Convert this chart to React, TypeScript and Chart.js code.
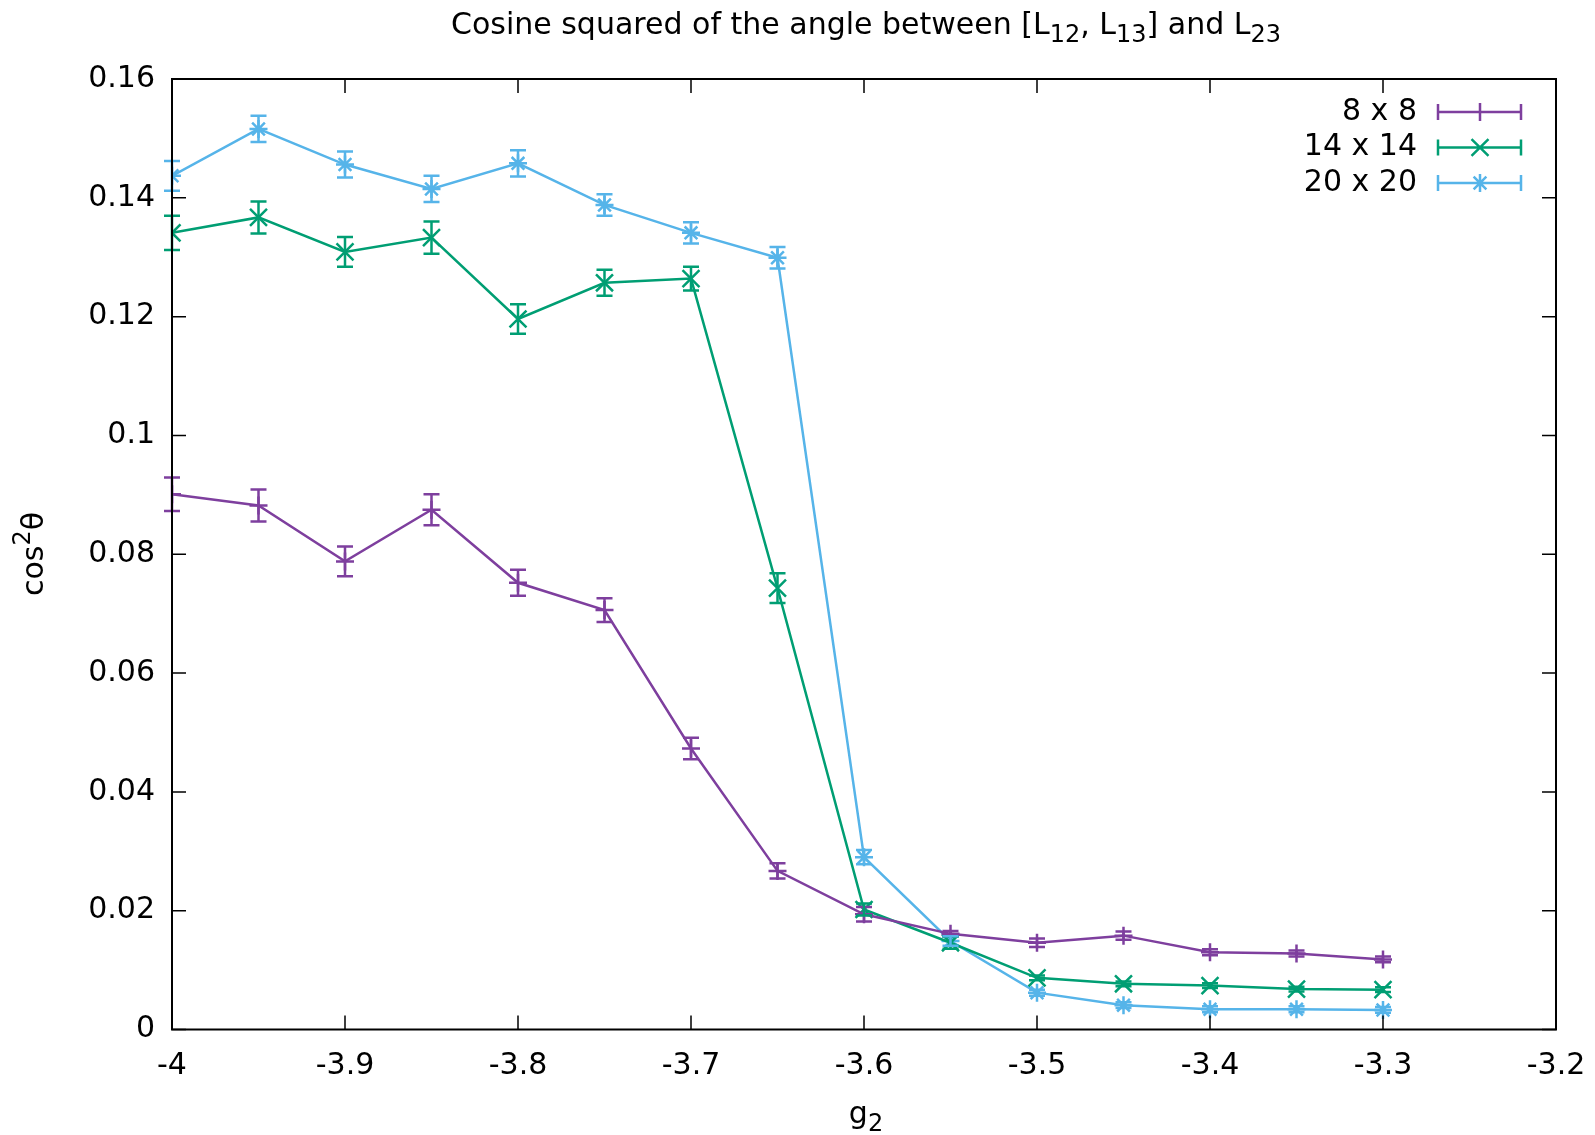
import { useEffect, useRef } from "react";
import { Chart, registerables } from "chart.js";

Chart.register(...registerables);

const FONT = "'DejaVu Sans', sans-serif";
const FS = 30;
const W = 1595;
const H = 1135;

// g2 values
const gValues = [-4, -3.95, -3.9, -3.85, -3.8, -3.75, -3.7, -3.65, -3.6, -3.55, -3.5, -3.45, -3.4, -3.35, -3.3];

// 8 x 8
const cos8 = [0.0901, 0.0882, 0.0788, 0.0875, 0.0752, 0.0706, 0.0473, 0.0267, 0.0194, 0.0161, 0.0146, 0.0158, 0.0130, 0.0128, 0.0118];
const err8 = [0.0028, 0.0027, 0.0025, 0.0026, 0.0022, 0.0020, 0.0018, 0.0013, 0.0012, 0.0005, 0.0007, 0.0007, 0.0005, 0.0005, 0.0005];

// 14 x 14
const cos14 = [0.1341, 0.1367, 0.1309, 0.1333, 0.1196, 0.1257, 0.1264, 0.0743, 0.0202, 0.0146, 0.0087, 0.0077, 0.0074, 0.0068, 0.0067];
const err14 = [0.0029, 0.0027, 0.0025, 0.0027, 0.0025, 0.0022, 0.0020, 0.0025, 0.0010, 0.0010, 0.0004, 0.0004, 0.0004, 0.0004, 0.0004];

// 20 x 20
const cos20 = [0.1437, 0.1516, 0.1456, 0.1415, 0.1458, 0.1388, 0.1341, 0.1299, 0.0290, 0.0149, 0.0062, 0.0041, 0.0034, 0.0034, 0.0033];
const err20 = [0.0025, 0.0022, 0.0022, 0.0022, 0.0022, 0.0018, 0.0018, 0.0018, 0.0012, 0.0008, 0.0005, 0.0005, 0.0005, 0.0005, 0.0005];

const seriesLabels = ["8 x 8", "14 x 14", "20 x 20"];
const seriesValues = [cos8, cos14, cos20];
const seriesErrors = [err8, err14, err20];
const seriesColors = ["#7e3f9e", "#009e73", "#56b4e9"];
const seriesPoints = ["cross", "crossRot", "star"];

const xMin = -4;
const xMax = -3.2;
const xStep = 0.1;
const yMin = 0;
const yMax = 0.16;
const yStep = 0.02;

type Seg = { t: string; sub?: boolean; sup?: boolean };
const titleSegs: Seg[] = [
  { t: "Cosine squared of the angle between [L" },
  { t: "12", sub: true },
  { t: ", L" },
  { t: "13", sub: true },
  { t: "] and L" },
  { t: "23", sub: true },
];
const yTitleSegs: Seg[] = [{ t: "cos" }, { t: "2", sup: true }, { t: "θ" }];
const xTitleSegs: Seg[] = [{ t: "g" }, { t: "2", sub: true }];

function drawSegs(ctx: CanvasRenderingContext2D, segs: Seg[], cx: number, cy: number, size: number) {
  const small = size * 0.8;
  let total = 0;
  const widths = segs.map((s) => {
    ctx.font = `${s.sub || s.sup ? small : size}px ${FONT}`;
    const w = ctx.measureText(s.t).width;
    total += w;
    return w;
  });
  let x = cx - total / 2;
  ctx.textBaseline = "middle";
  ctx.textAlign = "left";
  segs.forEach((s, i) => {
    ctx.font = `${s.sub || s.sup ? small : size}px ${FONT}`;
    const dy = s.sub ? size * 0.32 : s.sup ? -size * 0.38 : 0;
    ctx.fillText(s.t, x, cy + dy);
    x += widths[i];
  });
}

function fmt(v: number) {
  return String(parseFloat(v.toFixed(3)));
}

const CHART_LEFT = 172;
const CHART_RIGHT = 1556;
const CHART_TOP = 79;
const CHART_BOTTOM = 1029.5;
const TICK = 14;
const CAP = 8;
const LW = 2.5;

function markerPath(ctx: CanvasRenderingContext2D, style: string, cx: number, cy: number, r: number) {
  if (style === "cross" || style === "star") {
    ctx.moveTo(cx - r, cy);
    ctx.lineTo(cx + r, cy);
    ctx.moveTo(cx, cy - r);
    ctx.lineTo(cx, cy + r);
  }
  if (style === "crossRot" || style === "star") {
    const d = r * Math.SQRT1_2;
    ctx.moveTo(cx - d, cy - d);
    ctx.lineTo(cx + d, cy + d);
    ctx.moveTo(cx - d, cy + d);
    ctx.lineTo(cx + d, cy - d);
  }
}

const framePlugin = {
  id: "frame",
  afterDraw(chart: any) {
    const ctx = chart.ctx as CanvasRenderingContext2D;
    const { left, right, top, bottom } = chart.chartArea;
    const xs = chart.scales.x;
    const ys = chart.scales.y;
    ctx.save();
    ctx.strokeStyle = "#000";
    ctx.lineWidth = 2;
    ctx.strokeRect(left, top, right - left, bottom - top);
    ctx.lineWidth = 1.5;
    ctx.beginPath();
    xs.ticks.forEach((t: any) => {
      const px = xs.getPixelForValue(t.value);
      ctx.moveTo(px, bottom);
      ctx.lineTo(px, bottom - TICK);
      ctx.moveTo(px, top);
      ctx.lineTo(px, top + TICK);
    });
    ys.ticks.forEach((t: any) => {
      const py = ys.getPixelForValue(t.value);
      ctx.moveTo(left, py);
      ctx.lineTo(left + TICK, py);
      ctx.moveTo(right, py);
      ctx.lineTo(right - TICK, py);
    });
    ctx.stroke();

    // titles
    ctx.fillStyle = "#000";
    drawSegs(ctx, titleSegs, 866, 26, FS);
    drawSegs(ctx, xTitleSegs, 866, 1115, FS);
    ctx.save();
    ctx.translate(35, 554);
    ctx.rotate(-Math.PI / 2);
    drawSegs(ctx, yTitleSegs, 0, 0, FS);
    ctx.restore();

    // legend
    const rows = [112, 147.5, 183];
    chart.data.datasets.forEach((ds: any, i: number) => {
      const y = rows[i];
      ctx.font = `${FS}px ${FONT}`;
      ctx.textAlign = "right";
      ctx.textBaseline = "middle";
      ctx.fillStyle = "#000";
      ctx.fillText(ds.label, 1417, y);
      const x0 = 1438;
      const x1 = 1521;
      ctx.strokeStyle = ds.borderColor;
      ctx.lineWidth = LW;
      ctx.beginPath();
      ctx.moveTo(x0, y);
      ctx.lineTo(x1, y);
      ctx.moveTo(x0, y - CAP);
      ctx.lineTo(x0, y + CAP);
      ctx.moveTo(x1, y - CAP);
      ctx.lineTo(x1, y + CAP);
      markerPath(ctx, ds.pointStyle, 1480, y, ds.pointRadius);
      ctx.stroke();
    });
    ctx.restore();
  },
};

const errorBarPlugin = {
  id: "errorbars",
  afterDatasetsDraw(chart: any) {
    const ctx = chart.ctx as CanvasRenderingContext2D;
    const xs = chart.scales.x;
    const ys = chart.scales.y;
    ctx.save();
    chart.data.datasets.forEach((ds: any, di: number) => {
      const errs = seriesErrors[di];
      ctx.strokeStyle = ds.borderColor;
      ctx.lineWidth = LW;
      ctx.beginPath();
      ds.data.forEach((p: any, i: number) => {
        const px = xs.getPixelForValue(p.x);
        const yLo = ys.getPixelForValue(p.y - errs[i]);
        const yHi = ys.getPixelForValue(p.y + errs[i]);
        ctx.moveTo(px, yLo);
        ctx.lineTo(px, yHi);
        ctx.moveTo(px - CAP, yLo);
        ctx.lineTo(px + CAP, yLo);
        ctx.moveTo(px - CAP, yHi);
        ctx.lineTo(px + CAP, yHi);
      });
      ctx.stroke();
    });
    ctx.restore();
  },
};

export default function App() {
  const ref = useRef<HTMLCanvasElement | null>(null);
  useEffect(() => {
    if (!ref.current) return;
    const chart = new Chart(ref.current, {
      type: "line",
      data: {
        datasets: seriesLabels.map((label, i) => ({
          label,
          data: gValues.map((g, j) => ({ x: g, y: seriesValues[i][j] })),
          borderColor: seriesColors[i],
          backgroundColor: seriesColors[i],
          pointBorderColor: seriesColors[i],
          pointBackgroundColor: seriesColors[i],
          pointStyle: seriesPoints[i] as any,
          pointRadius: i === 1 ? 12 : 9,
          pointBorderWidth: LW,
          borderWidth: LW,
          tension: 0,
          fill: false,
        })),
      },
      options: {
        animation: false,
        responsive: false,
        maintainAspectRatio: false,
        layout: { padding: { left: 0, top: CHART_TOP, right: W - CHART_RIGHT, bottom: 0 } },
        plugins: {
          legend: { display: false },
          title: { display: false },
          tooltip: { enabled: false },
        },
        scales: {
          x: {
            type: "linear",
            min: xMin,
            max: xMax,
            grid: { display: false, drawTicks: false },
            border: { display: false },
            ticks: {
              stepSize: xStep,
              autoSkip: false,
              maxRotation: 0,
              padding: 19,
              color: "#000",
              font: { family: FONT, size: FS },
              callback: (v: any) => fmt(Number(v)),
            },
            afterFit: (s: any) => {
              s.height = H - CHART_BOTTOM;
              s.paddingLeft = 0;
              s.paddingRight = 0;
            },
          },
          y: {
            type: "linear",
            min: yMin,
            max: yMax,
            grid: { display: false, drawTicks: false },
            border: { display: false },
            ticks: {
              stepSize: yStep,
              autoSkip: false,
              padding: 17,
              color: "#000",
              font: { family: FONT, size: FS },
              callback: (v: any) => fmt(Number(v)),
            },
            afterFit: (s: any) => {
              s.width = CHART_LEFT;
              s.paddingTop = 0;
              s.paddingBottom = 0;
            },
          },
        },
      },
      plugins: [errorBarPlugin, framePlugin],
    });
    return () => chart.destroy();
  }, []);
  return (
    <div style={{ position: "absolute", left: 0, top: 0, width: W, height: H, background: "#fff" }}>
      <canvas ref={ref} width={W} height={H} style={{ display: "block", width: W, height: H }} />
    </div>
  );
}
